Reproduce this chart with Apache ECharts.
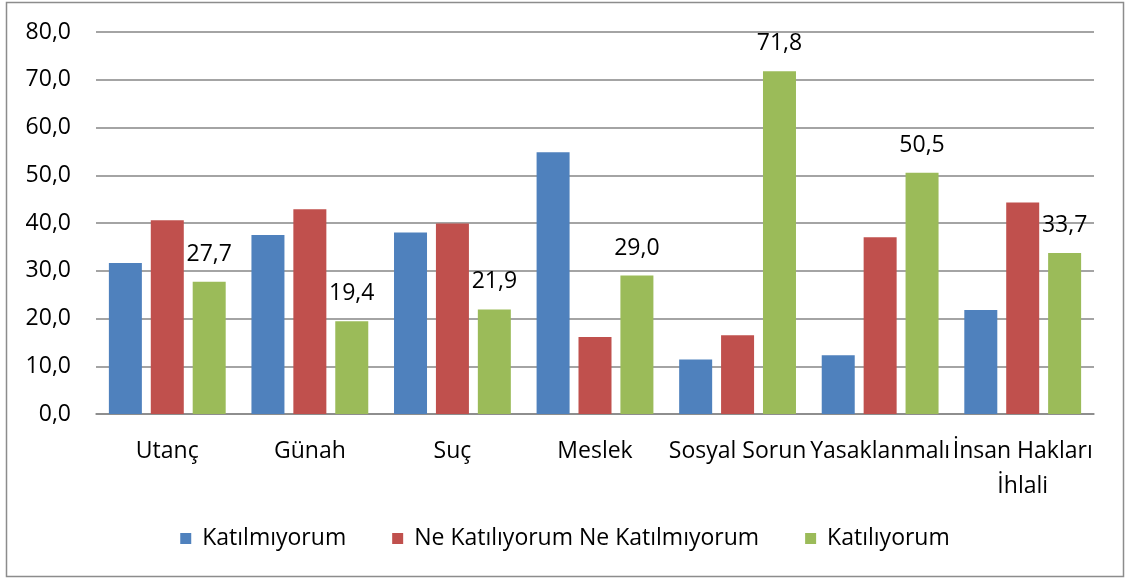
<!DOCTYPE html>
<html><head><meta charset="utf-8">
<script src="https://cdn.jsdelivr.net/npm/echarts@6/dist/echarts.min.js"></script>
<style>html,body{margin:0;padding:0;background:#fff}#c{width:1130px;height:581px}</style>
</head><body><div id="c"></div>
<script>
const categories = ["Utanç","Günah","Suç","Meslek","Sosyal Sorun","Yasaklanmalı","İnsan Hakları\nİhlali"];
const katilmiyorum = [31.6, 37.5, 38.0, 54.8, 11.4, 12.3, 21.8];
const neNe = [40.6, 42.9, 39.9, 16.1, 16.5, 37.0, 44.3];
const katiliyorum = [27.7, 19.4, 21.9, 29.0, 71.8, 50.5, 33.7];
const seriesNames = ["Katılmıyorum","Ne Katılıyorum Ne Katılmıyorum","Katılıyorum"];
const colors = ["#4F81BD","#C0504D","#9BBB59"];
const font = "'Open Sans', Lato, sans-serif";
const fs = 23;
const fmt = v => v.toFixed(1).replace('.', ',');

const chart = echarts.init(document.getElementById('c'));
chart.setOption({
  animation: false,
  textStyle: {fontFamily: font},
  graphic: [{type:'rect', shape:{x:6.5,y:2.5,width:1117,height:574}, style:{fill:null, stroke:'#8c8c8c', lineWidth:1.5}, silent:true}],
  grid: {left: 96, right: 36, top: 32, bottom: 167},
  legend: {
    bottom: 26, left: 'center', itemWidth: 11, itemHeight: 11, itemGap: 46,
    icon: 'rect',
    textStyle: {fontSize: fs, color: '#000', fontFamily: font, padding: [0, 0, 0, 6]},
    data: seriesNames
  },
  xAxis: {
    type: 'category', data: categories,
    axisLine: {lineStyle: {color: '#868686', width: 1.5}},
    axisTick: {show: false},
    axisLabel: {fontSize: fs, color: '#000', margin: 20, interval: 0, lineHeight: 35, fontFamily: font}
  },
  yAxis: {
    type: 'value', min: 0, max: 80, interval: 10,
    axisLine: {show: false}, axisTick: {show: false},
    splitLine: {lineStyle: {color: '#868686', width: 1.5}},
    axisLabel: {fontSize: fs, color: '#000', margin: 25, formatter: v => fmt(v), fontFamily: font}
  },
  series: [
    {name: seriesNames[0], type: 'bar', data: katilmiyorum, barWidth: 33, barGap: '27%', itemStyle: {color: colors[0]}},
    {name: seriesNames[1], type: 'bar', data: neNe, barWidth: 33, barGap: '27%', itemStyle: {color: colors[1]}},
    {name: seriesNames[2], type: 'bar', data: katiliyorum, barWidth: 33, barGap: '27%', itemStyle: {color: colors[2]},
      label: {show: true, position: 'top', distance: 16, fontSize: fs, color: '#000', fontFamily: font, formatter: p => fmt(p.value)}}
  ]
});
</script></body></html>
